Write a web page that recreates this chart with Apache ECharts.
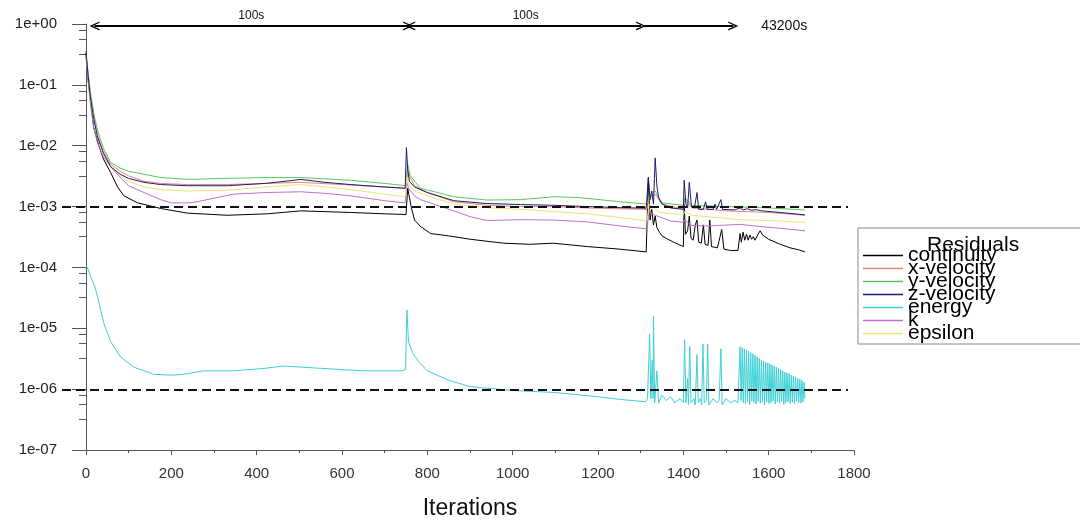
<!DOCTYPE html>
<html>
<head>
<meta charset="utf-8">
<script src="https://cdn.jsdelivr.net/npm/echarts@6/dist/echarts.min.js"></script>
<style>html,body{margin:0;padding:0;background:#fff}#c{width:1080px;height:525px}</style>
</head>
<body>
<div id="c"></div>
<script>
const seriesNames = ['continuity','x-velocity','y-velocity','z-velocity','energy','k','epsilon'];
const seriesColors = ['#000000','#e8857a','#5cc85c','#1c1c70','#3fd0d6','#c070c8','#ece27a'];
const xTicks = [0,200,400,600,800,1000,1200,1400,1600,1800];
const yMinorTicks = [0.8,0.56,0.32,0.08,0.056,0.032,0.008,0.0056,0.0032,8e-4,5.6e-4,3.2e-4,8e-5,5.6e-5,3.2e-5,8e-6,5.6e-6,3.2e-6,8e-7,5.6e-7,3.2e-7];
const thresholds = [1e-3, 1e-6];
const segments = [[20,755,'100s'],[760,1301,'100s'],[1308,1517,'43200s']];

const continuity = [[0,0.33],[5,0.12],[10,0.06],[18,0.02],[30,0.01],[41,6e-3],[58,3.6e-3],[74,2.1e-3],[89,1.5e-3],[121,1.15e-3],[175,9.3e-4],[238,7.8e-4],[331,7.2e-4],[425,7.6e-4],[503,8.5e-4],[620,8e-4],[700,7.6e-4],[750,7.4e-4],[754,2e-3],[762,1e-3],[770,6e-4],[784,4.7e-4],[808,3.6e-4],[850,3.3e-4],[901,2.9e-4],[979,2.5e-4],[1040,2.4e-4],[1096,2.5e-4],[1175,2.2e-4],[1250,2e-4],[1313,1.8e-4],[1318,3e-3],[1322,6e-4],[1326,9e-4],[1330,5e-4],[1334,7e-4],[1338,4.5e-4],[1344,3.8e-4],[1350,3.3e-4],[1360,3e-4],[1377,2.6e-4],[1400,2.2e-4],[1402,1.1e-3],[1405,3.5e-4],[1410,4e-4],[1414,7e-4],[1418,3e-4],[1423,2.8e-4],[1428,5e-4],[1432,6e-4],[1436,2.6e-4],[1442,2.5e-4],[1447,5e-4],[1451,2.4e-4],[1458,2.3e-4],[1462,6e-4],[1466,2.2e-4],[1480,2.1e-4],[1490,4.2e-4],[1495,2e-4],[1510,1.9e-4],[1528,1.9e-4],[1533,3.6e-4],[1536,2.6e-4],[1540,3.8e-4],[1544,2.8e-4],[1548,3.5e-4],[1552,2.8e-4],[1556,3.4e-4],[1560,2.9e-4],[1564,3.2e-4],[1568,2.8e-4],[1574,3.4e-4],[1580,4e-4],[1586,3.4e-4],[1600,2.9e-4],[1627,2.4e-4],[1650,2.1e-4],[1670,1.95e-4],[1685,1.8e-4]];

const xVelocity = [[0,0.3],[5,0.15],[10,0.07],[18,0.03],[27,0.015],[41,8e-3],[58,5e-3],[80,3.8e-3],[100,3.2e-3],[136,2.6e-3],[175,2.4e-3],[238,2.3e-3],[331,2.3e-3],[420,2.4e-3],[503,2.5e-3],[600,2.3e-3],[700,2.1e-3],[750,2.0e-3],[754,4e-3],[760,3e-3],[770,2.2e-3],[800,1.7e-3],[862,1.2e-3],[940,1.05e-3],[1018,1.0e-3],[1096,1.0e-3],[1175,9.5e-4],[1252,9.2e-4],[1315,9e-4],[1320,1.4e-3],[1334,1.6e-3],[1350,1.1e-3],[1400,9e-4],[1404,1.3e-3],[1420,9.5e-4],[1500,8.5e-4],[1600,8e-4],[1685,7.2e-4]];

const yVelocity = [[0,0.3],[5,0.16],[10,0.08],[18,0.035],[27,0.018],[41,9e-3],[58,5.3e-3],[80,4.3e-3],[100,3.8e-3],[136,3.4e-3],[175,3.0e-3],[238,2.8e-3],[331,2.9e-3],[420,3.0e-3],[503,3.0e-3],[620,2.7e-3],[700,2.4e-3],[750,2.2e-3],[754,5e-3],[760,3.2e-3],[784,2.0e-3],[862,1.45e-3],[940,1.28e-3],[1018,1.3e-3],[1096,1.45e-3],[1158,1.4e-3],[1252,1.2e-3],[1315,1.1e-3],[1320,1.5e-3],[1334,1.8e-3],[1350,1.15e-3],[1400,1.05e-3],[1404,1.4e-3],[1420,1.05e-3],[1500,1.0e-3],[1600,9.5e-4],[1685,8.8e-4]];

const zVelocity = [[0,0.35],[5,0.14],[10,0.065],[18,0.028],[27,0.014],[41,7.5e-3],[58,4.5e-3],[80,3.4e-3],[100,2.9e-3],[136,2.5e-3],[175,2.3e-3],[238,2.2e-3],[331,2.2e-3],[420,2.4e-3],[487,2.7e-3],[503,2.8e-3],[560,2.5e-3],[620,2.3e-3],[700,2.1e-3],[748,2.0e-3],[751,9.3e-3],[754,4e-3],[758,2.6e-3],[770,2.1e-3],[800,1.7e-3],[862,1.25e-3],[940,1.12e-3],[1018,1.08e-3],[1096,1.05e-3],[1175,1.0e-3],[1252,9.6e-4],[1313,9.4e-4],[1318,3e-3],[1322,1.3e-3],[1326,1.8e-3],[1330,1.1e-3],[1334,6.3e-3],[1338,2.2e-3],[1342,1.4e-3],[1350,1.1e-3],[1370,9.5e-4],[1400,9e-4],[1402,2.7e-3],[1406,1.1e-3],[1410,9.5e-4],[1414,2.5e-3],[1419,1.0e-3],[1426,9.5e-4],[1432,1.7e-3],[1436,9e-4],[1447,9e-4],[1452,1.2e-3],[1456,9e-4],[1470,9e-4],[1474,1.1e-3],[1478,9e-4],[1488,1.3e-3],[1492,9e-4],[1520,8.8e-4],[1533,9.5e-4],[1540,8.8e-4],[1550,9.2e-4],[1560,8.7e-4],[1570,8.9e-4],[1585,8.5e-4],[1627,8e-4],[1685,7.3e-4]];

const energy = [[0,1.1e-4],[6,9e-5],[11,7e-5],[20,5e-5],[27,3.3e-5],[42,1.2e-5],[58,6e-6],[81,3.4e-6],[112,2.3e-6],[159,1.75e-6],[200,1.7e-6],[229,1.75e-6],[276,2e-6],[346,2e-6],[420,2.2e-6],[463,2.4e-6],[550,2.2e-6],[650,2.0e-6],[740,2.0e-6],[749,2.1e-6],[752,2e-5],[756,6e-6],[765,4e-6],[780,2.8e-6],[800,2e-6],[850,1.4e-6],[900,1.1e-6],[1000,9.5e-7],[1100,8.8e-7],[1200,7.5e-7],[1250,6.8e-7],[1312,6.2e-7],[1316,7e-7],[1321,8e-6],[1324,7e-7],[1327,3e-6],[1329,7e-7],[1330,1.6e-5],[1333,6e-7],[1338,2e-6],[1342,6e-7],[1350,8e-7],[1360,6.5e-7],[1370,7.5e-7],[1380,6e-7],[1392,7e-7],[1400,6e-7],[1403,6.5e-6],[1406,6e-7],[1410,1.5e-6],[1412,5.5e-7],[1415,5e-6],[1418,6e-7],[1425,7e-7],[1428,5.5e-7],[1432,3.7e-6],[1435,6e-7],[1440,7e-7],[1443,5.5e-7],[1446,5.5e-6],[1449,6e-7],[1454,6.5e-7],[1457,5.5e-6],[1460,5.5e-7],[1470,7e-7],[1478,6e-7],[1484,6.5e-7],[1488,4.6e-6],[1491,5.5e-7],[1500,7e-7],[1510,6e-7],[1520,6.5e-7],[1528,6e-7],[1533,5e-6],[1535.5,6.5e-7],[1538,4.8e-6],[1540.5,6e-7],[1543,4.6e-6],[1545.5,5.8e-7],[1548,4.4e-6],[1550.5,6.2e-7],[1553,4.2e-6],[1555.5,5.6e-7],[1558,4.0e-6],[1560.5,6.4e-7],[1563,3.8e-6],[1565.5,6e-7],[1568,3.6e-6],[1570.5,5.7e-7],[1573,3.4e-6],[1575.5,6.3e-7],[1578,3.2e-6],[1580.5,5.9e-7],[1583,3.0e-6],[1585.5,6.1e-7],[1588,2.9e-6],[1590.5,5.5e-7],[1593,2.8e-6],[1595.5,6.2e-7],[1598,2.7e-6],[1600.5,5.8e-7],[1603,2.6e-6],[1605.5,6e-7],[1608,2.5e-6],[1610.5,6.4e-7],[1613,2.4e-6],[1615.5,5.7e-7],[1618,2.3e-6],[1620.5,6.1e-7],[1623,2.2e-6],[1625.5,5.9e-7],[1628,2.1e-6],[1630.5,6.3e-7],[1633,2.0e-6],[1635.5,5.6e-7],[1638,1.9e-6],[1640.5,6e-7],[1643,1.85e-6],[1645.5,6.2e-7],[1648,1.8e-6],[1650.5,5.8e-7],[1653,1.7e-6],[1655.5,6.1e-7],[1658,1.65e-6],[1660.5,5.7e-7],[1663,1.6e-6],[1665.5,6.3e-7],[1668,1.5e-6],[1670.5,6e-7],[1673,1.45e-6],[1675.5,5.9e-7],[1678,1.4e-6],[1680.5,6.2e-7],[1683,1.3e-6],[1685,7e-7]];

const kResid = [[0,0.3],[5,0.12],[10,0.05],[18,0.02],[27,0.011],[41,6.5e-3],[58,4.5e-3],[80,3e-3],[100,2.2e-3],[136,1.7e-3],[175,1.3e-3],[200,1.15e-3],[238,1.15e-3],[253,1.17e-3],[316,1.45e-3],[346,1.6e-3],[420,1.7e-3],[503,1.75e-3],[560,1.65e-3],[620,1.5e-3],[700,1.25e-3],[748,1.15e-3],[752,2.5e-3],[756,2e-3],[770,1.5e-3],[784,1.3e-3],[862,8.5e-4],[901,6.8e-4],[940,5.9e-4],[1018,6.1e-4],[1096,6.0e-4],[1175,5.6e-4],[1252,4.8e-4],[1315,4.3e-4],[1320,9e-4],[1326,7.5e-4],[1334,7.2e-4],[1370,5.8e-4],[1400,5.5e-4],[1403,6e-4],[1420,4.9e-4],[1460,4.8e-4],[1533,5.1e-4],[1580,4.7e-4],[1627,4.4e-4],[1685,4e-4]];

const epsilon = [[0,0.3],[5,0.14],[10,0.06],[18,0.028],[27,0.014],[41,7.5e-3],[58,4.6e-3],[80,3.2e-3],[100,2.6e-3],[136,2.1e-3],[175,1.9e-3],[238,1.8e-3],[331,1.85e-3],[420,2.1e-3],[503,2.3e-3],[620,1.9e-3],[700,1.6e-3],[748,1.45e-3],[752,3e-3],[758,2.2e-3],[770,1.8e-3],[800,1.5e-3],[862,1.1e-3],[940,9.6e-4],[1018,9e-4],[1096,8.3e-4],[1175,7.6e-4],[1252,6.6e-4],[1315,5.8e-4],[1320,1.1e-3],[1334,9e-4],[1346,8e-4],[1400,7.3e-4],[1404,8.5e-4],[1420,7.2e-4],[1533,6.1e-4],[1600,5.9e-4],[1685,5.5e-4]];

const seriesData = [continuity, xVelocity, yVelocity, zVelocity, energy, kResid, epsilon];

const FONT = 'Liberation Sans';
const chevron = 'path://M0,10 L5,0 L10,10 L8.4,10 L5,3.2 L1.6,10 Z';

function yFmt(v){
  const e = Math.round(Math.log10(v));
  return '1e' + (e < 0 ? '-' : '+') + String(Math.abs(e)).padStart(2,'0');
}

const chart = echarts.init(document.getElementById('c'), null, {renderer:'canvas'});

const lineSeries = seriesNames.map((n, i) => ({
  name: n, type: 'line', data: seriesData[i], showSymbol: false, symbol: 'none',
  lineStyle: {width: 1, color: seriesColors[i]}, itemStyle: {color: seriesColors[i]},
  z: i === 3 ? 4 : 3, animation: false
}));

// dashed threshold lines, drawn on an overlay grid spanning the dashed-line extent (0..1 horizontally)
const thresholdSeries = thresholds.map((t, i) => ({
  name: 'threshold' + i, type: 'line', xAxisIndex: 1, yAxisIndex: 2,
  data: [[0, t], [1, t]], showSymbol: false, symbol: 'none', silent: true, animation: false,
  lineStyle: {type: [9, 5], width: 2, color: '#111'}, z: 5
}));

const annot = {
  name: 'annot', type: 'line', data: [], clip: false, silent: true, animation: false,
  markLine: {
    silent: true, animation: false, symbol: 'none',
    data: segments.map((s, i) => [
      {coord: [s[0], 0.93], symbol: i < 2 ? chevron : 'none', symbolSize: [9, 10],
       lineStyle: {type: 'solid', width: 2, color: '#000'},
       label: {show: true, formatter: s[2], position: i < 2 ? 'insideMiddleTop' : 'end',
               distance: i < 2 ? 4 : 28, fontSize: i < 2 ? 12 : 14, color: '#111', fontFamily: FONT}},
      {coord: [s[1], 0.93], symbol: chevron, symbolSize: [9, 10]}
    ])
  }
};

chart.setOption({
  animation: false,
  backgroundColor: '#fff',
  textStyle: {fontFamily: FONT},
  title: {text: 'Residuals', left: 922, top: 230,
          textStyle: {fontSize: 21, fontWeight: 'normal', color: '#000', fontFamily: FONT}},
  legend: {
    data: seriesNames, orient: 'vertical', left: 858, top: 228,
    padding: [17, 130, 0, 5], itemGap: -8, itemWidth: 40, itemHeight: 1.5, icon: 'rect',
    borderColor: '#888', borderWidth: 1, backgroundColor: '#fff',
    textStyle: {fontSize: 21, color: '#000', fontFamily: FONT},
    selectedMode: false
  },
  grid: [
    {left: 86, right: 226, top: 24, bottom: 74, containLabel: false},
    {left: 62, right: 232, top: 24, bottom: 74, containLabel: false}
  ],
  xAxis: [{
    type: 'value', min: xTicks[0], max: xTicks[xTicks.length-1], interval: 200,
    name: 'Iterations', nameLocation: 'middle', nameGap: 47,
    nameTextStyle: {fontSize: 23, color: '#111', fontFamily: FONT},
    axisLine: {show: true, onZero: false, lineStyle: {color: '#555', width: 1}},
    axisTick: {show: true, inside: false, length: 5, lineStyle: {color: '#555'}},
    minorTick: {show: true, splitNumber: 2, length: 3, lineStyle: {color: '#555'}},
    axisLabel: {fontSize: 15, color: '#333', margin: 16, fontFamily: FONT, formatter: v => String(v)},
    splitLine: {show: false}
  }, {
    type: 'value', gridIndex: 1, min: 0, max: 1, show: false
  }],
  yAxis: [{
    type: 'log', logBase: 10, min: 1e-7, max: 1, splitNumber: 7,
    axisLine: {show: true, lineStyle: {color: '#555', width: 1}},
    axisTick: {show: true, inside: false, length: 14, lineStyle: {color: '#555'}},
    axisLabel: {fontSize: 15, color: '#222', margin: 29, formatter: yFmt, fontFamily: FONT},
    splitLine: {show: false}
  }, {
    type: 'log', logBase: 10, min: 1e-7, max: 1, position: 'left',
    axisLine: {show: false},
    axisTick: {show: true, inside: false, length: 7, customValues: yMinorTicks, lineStyle: {color: '#555'}},
    axisLabel: {show: false},
    splitLine: {show: false}
  }, {
    type: 'log', logBase: 10, gridIndex: 1, min: 1e-7, max: 1, show: false
  }],
  series: [...lineSeries, ...thresholdSeries, annot]
});
</script>
</body>
</html>
